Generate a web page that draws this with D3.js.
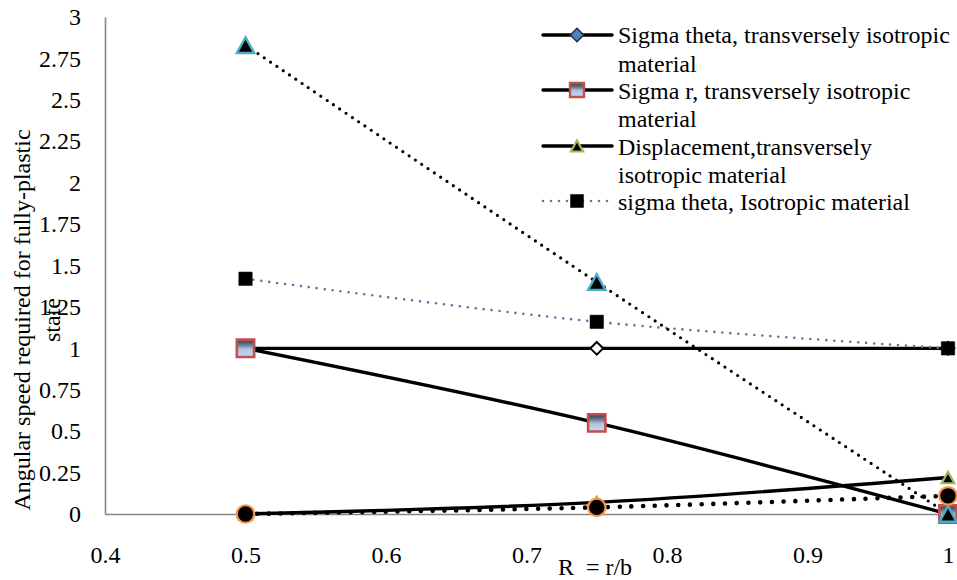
<!DOCTYPE html>
<html>
<head>
<meta charset="utf-8">
<script src="https://cdn.jsdelivr.net/npm/d3@7"></script>
<style>
  html, body { margin: 0; padding: 0; background: #fff; }
  svg { display: block; font-family: "Liberation Serif", "Times New Roman", Times, serif; }
</style>
</head>
<body>
<svg id="chart" width="957" height="580"></svg>
<script>
// ---- data ----
const xValues = [0.5, 0.75, 1];
const sigmaThetaTrans = [1, 1, 1];
const sigmaRTrans = [1, 0.55, 0];
const displacementTrans = [0, 0.07, 0.22];
const sigmaThetaIso = [1.42, 1.16, 1];
const series5 = [2.83, 1.4, 0];
const series6 = [0, 0.04, 0.11];
const xTicks = [0.4, 0.5, 0.6, 0.7, 0.8, 0.9, 1];
const yTicks = [0, 0.25, 0.5, 0.75, 1, 1.25, 1.5, 1.75, 2, 2.25, 2.5, 2.75, 3];
const legendLabels = [
  ["Sigma theta, transversely isotropic", "material"],
  ["Sigma r, transversely isotropic", "material"],
  ["Displacement,transversely", "isotropic material"],
  ["sigma theta, Isotropic material"]
];
const xTitle = "R  = r/b";
const yTitleLines = ["Angular speed required for fully-plastic", "state"];

// ---- setup ----
const svg = d3.select("#chart");
const FS = 24;
const FONT = "\"Liberation Serif\", \"Times New Roman\", Times, serif";
const x = d3.scaleLinear().domain([0.4, 1]).range([105, 948]);
const y = d3.scaleLinear().domain([0, 3]).range([514, 17]);

const defs = svg.append("defs");
const grad = defs.append("linearGradient").attr("id", "sqgrad")
  .attr("x1", 0).attr("y1", 0).attr("x2", 0).attr("y2", 1);
grad.append("stop").attr("offset", "0%").attr("stop-color", "#353c47");
grad.append("stop").attr("offset", "25%").attr("stop-color", "#5f6b80");
grad.append("stop").attr("offset", "55%").attr("stop-color", "#b3c3e2");
grad.append("stop").attr("offset", "100%").attr("stop-color", "#c9d8f2");

// axes
const yAxis = d3.axisLeft(y).tickValues(yTicks).tickSize(0).tickPadding(24)
  .tickFormat(d3.format("~g"));
const xAxis = d3.axisBottom(x).tickValues(xTicks).tickSize(0).tickPadding(32)
  .tickFormat(d3.format("~g"));

const gy = svg.append("g").attr("transform", "translate(105,0)").call(yAxis);
const gx = svg.append("g").attr("transform", "translate(0,514)").call(xAxis);
[gx, gy].forEach(g => {
  g.attr("font-family", FONT).attr("font-size", FS);
  g.select(".domain").attr("stroke", "#868686").attr("stroke-width", 1.6);
  g.selectAll("text").attr("fill", "#000");
});

// axis titles
svg.append("text").attr("x", 595).attr("y", 575).attr("text-anchor", "middle")
  .attr("font-size", FS).style("white-space", "pre").text(xTitle);

const yt = svg.append("text").attr("transform", "translate(0,320) rotate(-90)")
  .attr("text-anchor", "middle").attr("font-size", FS);
yt.append("tspan").attr("x", 0).attr("y", 30).text(yTitleLines[0]);
yt.append("tspan").attr("x", 0).attr("y", 60).text(yTitleLines[1]);

// symbols
const sqDiamond = {
  draw(ctx, size) {
    const r = Math.sqrt(size) / 2 * Math.SQRT2;
    ctx.moveTo(0, -r); ctx.lineTo(r, 0); ctx.lineTo(0, r); ctx.lineTo(-r, 0); ctx.closePath();
  }
};
const triUp = {
  draw(ctx, size) {
    const s = Math.sqrt(size);
    const h = s * 0.9;
    ctx.moveTo(0, -h / 2); ctx.lineTo(s / 2, h / 2); ctx.lineTo(-s / 2, h / 2); ctx.closePath();
  }
};

const series = [
  { values: sigmaThetaTrans, line: { stroke: "#000", w: 3.4, dash: null },
    marker: { type: sqDiamond, size: 81, fill: "#fff", stroke: "#000", sw: 2 },
    legendMarker: { type: sqDiamond, size: 90, fill: "#4f81bd", stroke: "#1d2f48", sw: 1.5 } },
  { values: sigmaRTrans, line: { stroke: "#000", w: 3.4, dash: null },
    marker: { type: d3.symbolSquare, size: 300, fill: "url(#sqgrad)", stroke: "#c0504d", sw: 2.6 },
    legendMarker: { type: d3.symbolSquare, size: 196, fill: "url(#sqgrad)", stroke: "#c0504d", sw: 2.4 } },
  { values: displacementTrans, line: { stroke: "#000", w: 3.4, dash: null },
    marker: { type: triUp, size: 160, fill: "#000", stroke: "#9bbb59", sw: 2.2 },
    legendMarker: { type: triUp, size: 150, fill: "#000", stroke: "#9bbb59", sw: 2.2 } },
  { values: sigmaThetaIso, line: { stroke: "#8064a2", w: 2.6, dash: "0 8" },
    marker: { type: d3.symbolSquare, size: 180, fill: "#000", stroke: "#000", sw: 0.5 },
    legendMarker: { type: d3.symbolSquare, size: 170, fill: "#000", stroke: "#000", sw: 0.5 } },
  { values: series5, line: { stroke: "#000", w: 3.2, dash: "0 7.6" },
    marker: { type: triUp, size: 300, fill: "#000", stroke: "#4bacc6", sw: 2.4 } },
  { values: series6, line: { stroke: "#000", w: 4.6, dash: "0 11.7" },
    marker: { type: d3.symbolCircle, size: 240, fill: "#000", stroke: "#f79646", sw: 2.2 } }
];

const lineGen = d3.line().x(d => x(d[0])).y(d => y(d[1])).curve(d3.curveCatmullRom.alpha(0));

const linesG = svg.append("g");
series.forEach(s => {
  const pts = xValues.map((xv, i) => [xv, s.values[i]]);
  linesG.append("path").datum(pts).attr("d", lineGen)
    .attr("fill", "none").attr("stroke", s.line.stroke).attr("stroke-width", s.line.w)
    .attr("stroke-linecap", "round")
    .attr("stroke-dasharray", s.line.dash);
});

const markersG = svg.append("g");
series.forEach(s => {
  const m = s.marker;
  markersG.selectAll(null).data(xValues.map((xv, i) => [xv, s.values[i]])).enter()
    .append("path")
    .attr("transform", d => `translate(${x(d[0])},${y(d[1])})`)
    .attr("d", d3.symbol().type(m.type).size(m.size))
    .attr("fill", m.fill).attr("stroke", m.stroke).attr("stroke-width", m.sw);
});

// legend
const legendY = [35, 90, 146, 201];
const legendBase = [[43, 72], [99, 127], [155, 183], [210]];
const lg = svg.append("g");
legendLabels.forEach((lines, i) => {
  const s = series[i];
  const yy = legendY[i];
  lg.append("line").attr("x1", 543).attr("x2", 612).attr("y1", yy).attr("y2", yy)
    .attr("stroke", s.line.stroke).attr("stroke-width", s.line.w)
    .attr("stroke-linecap", "round").attr("stroke-dasharray", s.line.dash);
  const m = s.legendMarker;
  lg.append("path").attr("transform", `translate(577,${yy})`)
    .attr("d", d3.symbol().type(m.type).size(m.size))
    .attr("fill", m.fill).attr("stroke", m.stroke).attr("stroke-width", m.sw);
  const t = lg.append("text").attr("font-size", FS).attr("fill", "#000");
  lines.forEach((ln, j) => {
    t.append("tspan").attr("x", 618).attr("y", legendBase[i][j]).text(ln);
  });
});
</script>
</body>
</html>
